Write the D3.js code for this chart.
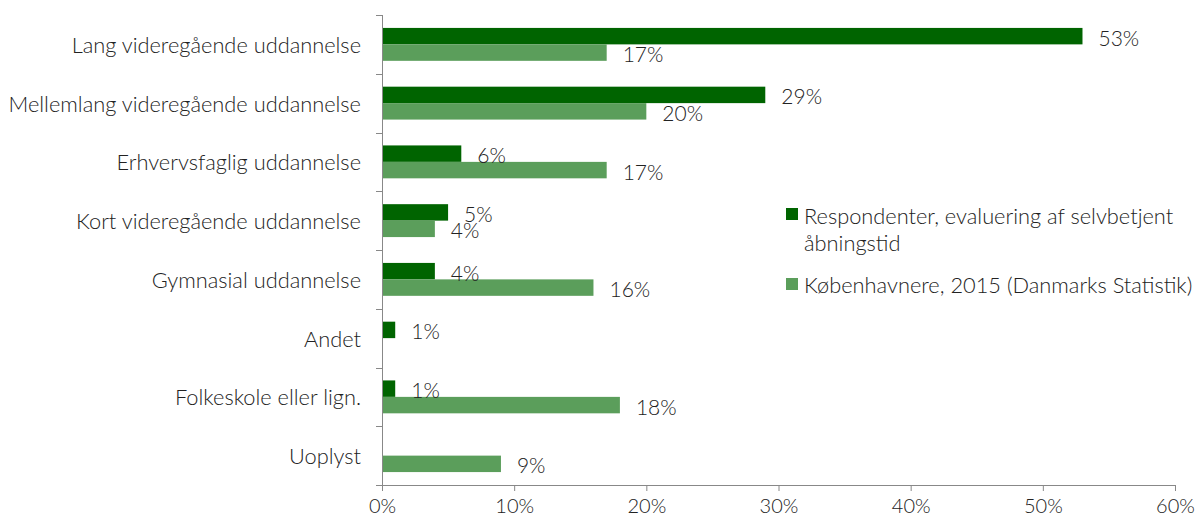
<!DOCTYPE html>
<html>
<head>
<meta charset="utf-8">
<script src="https://cdn.jsdelivr.net/npm/d3@7"></script>
<style>
	body { margin: 0; background: #fff; }
	svg text { font-family: Lato, "Open Sans", sans-serif; font-weight: 300; fill: #222; }
</style>
</head>
<body>
<svg id="chart"></svg>
<script>
// categories top to bottom
const categories = [
	"Lang videregående uddannelse",
	"Mellemlang videregående uddannelse",
	"Erhvervsfaglig uddannelse",
	"Kort videregående uddannelse",
	"Gymnasial uddannelse",
	"Andet",
	"Folkeskole eller lign.",
	"Uoplyst"
];
const seriesNames = [
	"Respondenter, evaluering af selvbetjent åbningstid",
	"Københavnere, 2015 (Danmarks Statistik)"
];
const respondenter = [53, 29, 6, 5, 4, 1, 1, null];
const koebenhavnere = [17, 20, 17, 4, 16, null, 18, 9];
const xTicks = [0, 10, 20, 30, 40, 50, 60];
const colors = ["#006400", "#5b9e5b"];

const width = 1196, height = 521;
const margin = { top: 15, right: 21, bottom: 36, left: 382 };

const svg = d3.select("#chart")
	.attr("width", width)
	.attr("height", height);

const x = d3.scaleLinear()
	.domain([0, 60])
	.range([margin.left, width - margin.right]);

const y = d3.scaleBand()
	.domain(categories)
	.range([margin.top, height - margin.bottom])
	.paddingInner(0.44)
	.paddingOuter(0.22);

const inner = d3.scaleBand()
	.domain([0, 1])
	.range([0, y.bandwidth()]);

// data rows
const rows = [];
categories.forEach((c, i) => {
	[respondenter[i], koebenhavnere[i]].forEach((v, s) => {
		if (v != null) rows.push({ cat: c, s: s, v: v });
	});
});

// bars
svg.append("g")
	.selectAll("rect")
	.data(rows)
	.enter()
	.append("rect")
	.attr("x", x(0))
	.attr("y", d => y(d.cat) + inner(d.s))
	.attr("width", d => x(d.v) - x(0))
	.attr("height", inner.bandwidth())
	.attr("fill", d => colors[d.s]);

// value labels
svg.append("g")
	.selectAll("text")
	.data(rows)
	.enter()
	.append("text")
	.attr("x", d => x(d.v) + 16)
	.attr("y", d => y(d.cat) + inner(d.s) + inner.bandwidth() / 2 + 1)
	.attr("dominant-baseline", "central")
	.attr("font-size", 21)
	.text(d => d.v + "%");

// x axis
const xAxis = svg.append("g")
	.attr("transform", `translate(0, ${height - margin.bottom})`)
	.call(d3.axisBottom(x).tickValues(xTicks).tickFormat(d => d + "%").tickSize(6).tickSizeOuter(0));
xAxis.select(".domain").attr("stroke", "#888").attr("d", `M${x(0) - 6},0.5H${x(60)}`);
xAxis.selectAll(".tick line").attr("stroke", "#888");
xAxis.selectAll(".tick text")
	.attr("font-size", 20)
	.attr("dy", "0.95em")
	.attr("font-family", null);

// y axis: line with ticks at band boundaries
const step = y.step();
const yAxisG = svg.append("g");
yAxisG.append("line")
	.attr("x1", x(0) + 0.5).attr("x2", x(0) + 0.5)
	.attr("y1", margin.top).attr("y2", height - margin.bottom)
	.attr("stroke", "#888");
yAxisG.selectAll("line.tk")
	.data(d3.range(categories.length))
	.enter()
	.append("line")
	.attr("class", "tk")
	.attr("x1", x(0) - 6).attr("x2", x(0))
	.attr("y1", i => Math.round(margin.top + i * step) + 0.5)
	.attr("y2", i => Math.round(margin.top + i * step) + 0.5)
	.attr("stroke", "#888");
yAxisG.selectAll("text")
	.data(categories)
	.enter()
	.append("text")
	.attr("x", x(0) - 21)
	.attr("y", d => y(d) + y.bandwidth() / 2)
	.attr("text-anchor", "end")
	.attr("dominant-baseline", "central")
	.attr("font-size", 21.8)
	.text(d => d);

// legend
const legend = svg.append("g").attr("transform", "translate(786, 208)");
legend.append("rect").attr("x", 0).attr("y", 0).attr("width", 12).attr("height", 12).attr("fill", colors[0]);
legend.append("text").attr("x", 18).attr("y", 7).attr("dominant-baseline", "central").attr("font-size", 21.8)
	.text("Respondenter, evaluering af selvbetjent");
legend.append("text").attr("x", 18).attr("y", 34).attr("dominant-baseline", "central").attr("font-size", 21.8)
	.text("åbningstid");
legend.append("rect").attr("x", 0).attr("y", 70).attr("width", 12).attr("height", 12).attr("fill", colors[1]);
legend.append("text").attr("x", 18).attr("y", 76).attr("dominant-baseline", "central").attr("font-size", 21.8)
	.text(seriesNames[1]);
</script>
</body>
</html>
